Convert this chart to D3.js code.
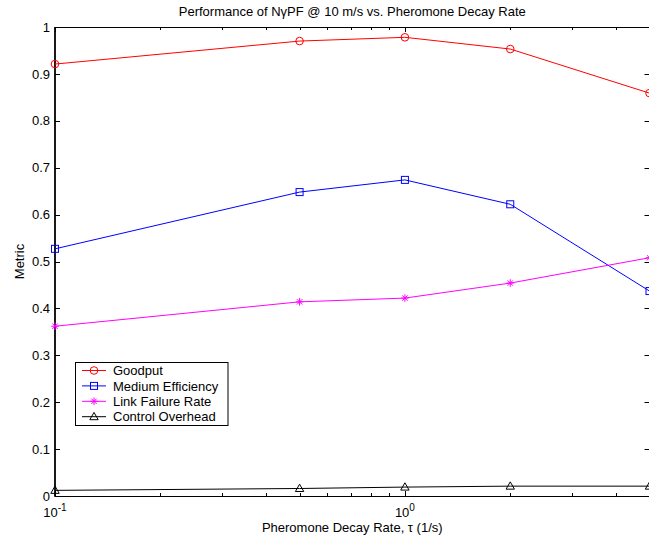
<!DOCTYPE html>
<html>
<head>
<meta charset="utf-8">
<script src="https://cdn.jsdelivr.net/npm/d3@7"></script>
<style>
  html, body { margin: 0; padding: 0; background: #fff; }
  svg text { font-family: "Liberation Sans", Arial, Helvetica, sans-serif; fill: #000; }
</style>
</head>
<body>
<svg id="chart" width="649" height="541"></svg>
<script>
// Decay rates (1/s) on a log axis
const decayRates = [0.1, 0.5, 1, 2, 5];

// Metrics at each decay rate
const goodput          = [0.921, 0.970, 0.978, 0.953, 0.859];
const mediumEfficiency = [0.527, 0.648, 0.674, 0.622, 0.437];
const linkFailureRate  = [0.362, 0.414, 0.422, 0.454, 0.508];
const controlOverhead  = [0.012, 0.016, 0.019, 0.021, 0.021];

const seriesNames  = ["Goodput", "Medium Efficiency", "Link Failure Rate", "Control Overhead"];
const seriesColors = ["#ff0000", "#0000ff", "#ff00ff", "#000000"];
const seriesMarkers = ["circle", "square", "star", "triangle"];

const yTicks = [0, 0.1, 0.2, 0.3, 0.4, 0.5, 0.6, 0.7, 0.8, 0.9, 1];
const xMajorTicks = [0.1, 1];
const xMinorTicks = [0.2, 0.3, 0.4, 0.5, 0.6, 0.7, 0.8, 0.9, 2, 3, 4];

const titleText = "Performance of NγPF @ 10 m/s vs. Pheromone Decay Rate";
const xLabelText = "Pheromone Decay Rate, τ (1/s)";
const yLabelText = "Metric";

const series = [goodput, mediumEfficiency, linkFailureRate, controlOverhead];

const svg = d3.select("#chart");
const plotL = 55, plotR = 649.5, plotT = 27, plotB = 496;

const x = d3.scaleLog().domain([0.1, 5]).range([plotL, plotR]);
const y = d3.scaleLinear().domain([0, 1]).range([plotB, plotT]);

const fontSize = 13;

// Plot box
const box = svg.append("g");
box.append("rect")
  .attr("x", plotL).attr("y", plotT + 0.5)
  .attr("width", plotR - plotL).attr("height", plotB - plotT)
  .attr("fill", "#fff").attr("stroke", "#000").attr("stroke-width", 1);
box.append("line")
  .attr("x1", plotL).attr("x2", plotL).attr("y1", plotT).attr("y2", plotB + 0.5)
  .attr("stroke", "#000").attr("stroke-width", 1.6);

// Y ticks (inward on both sides) and labels
const yt = svg.append("g");
yTicks.forEach(v => {
  const py = Math.round(y(v)) + 0.5;
  yt.append("line").attr("x1", plotL).attr("x2", plotL + 5).attr("y1", py).attr("y2", py)
    .attr("stroke", "#000");
  yt.append("line").attr("x1", plotR - 5).attr("x2", plotR).attr("y1", py).attr("y2", py)
    .attr("stroke", "#000");
  yt.append("text").attr("x", plotL - 5).attr("y", y(v)).attr("dy", "0.36em")
    .attr("text-anchor", "end").attr("font-size", fontSize)
    .text(d3.format("~g")(v));
});

// X ticks: major and minor, inward on top and bottom
const xt = svg.append("g");
xMajorTicks.concat(xMinorTicks).forEach(v => {
  const major = xMajorTicks.includes(v);
  const len = major ? 5 : 3;
  const px = Math.round(x(v)) + 0.5;
  xt.append("line").attr("x1", px).attr("x2", px).attr("y1", plotB).attr("y2", plotB - len)
    .attr("stroke", "#000");
  xt.append("line").attr("x1", px).attr("x2", px).attr("y1", plotT).attr("y2", plotT + len)
    .attr("stroke", "#000");
});
xMajorTicks.forEach(v => {
  const exp = Math.round(Math.log10(v));
  const t = xt.append("text").attr("x", x(v)).attr("y", plotB + 21)
    .attr("text-anchor", "middle").attr("font-size", fontSize);
  t.append("tspan").text("10");
  t.append("tspan").attr("dy", -6).attr("font-size", 10).text(String(exp));
});

// Series lines and markers
const line = d3.line().x((d, i) => x(decayRates[i])).y(d => y(d));

function drawMarker(g, type, cx, cy, color) {
  if (type === "circle") {
    g.append("circle").attr("cx", cx).attr("cy", cy).attr("r", 3.8)
      .attr("fill", "none").attr("stroke", color).attr("stroke-width", 1);
  } else if (type === "square") {
    g.append("rect").attr("x", cx - 3.5).attr("y", cy - 3.5).attr("width", 7).attr("height", 7)
      .attr("fill", "none").attr("stroke", color).attr("stroke-width", 1);
  } else if (type === "star") {
    const s = 3.8, d = 2.7;
    const p = `M${cx - s},${cy}L${cx + s},${cy}M${cx},${cy - s}L${cx},${cy + s}` +
              `M${cx - d},${cy - d}L${cx + d},${cy + d}M${cx - d},${cy + d}L${cx + d},${cy - d}`;
    g.append("path").attr("d", p).attr("fill", "none").attr("stroke", color).attr("stroke-width", 1);
  } else if (type === "triangle") {
    const p = `M${cx},${cy - 4.3}L${cx + 4.2},${cy + 3}L${cx - 4.2},${cy + 3}Z`;
    g.append("path").attr("d", p).attr("fill", "none").attr("stroke", color).attr("stroke-width", 1);
  }
}

const plot = svg.append("g");
series.forEach((vals, k) => {
  plot.append("path").datum(vals).attr("d", line)
    .attr("fill", "none").attr("stroke", seriesColors[k]).attr("stroke-width", 1);
  vals.forEach((v, i) => drawMarker(plot, seriesMarkers[k], x(decayRates[i]), y(v), seriesColors[k]));
});

// Legend
const lg = svg.append("g");
const lgX = 75.5, lgY = 362.5, lgW = 152.5, lgH = 63;
lg.append("rect").attr("x", lgX).attr("y", lgY).attr("width", lgW).attr("height", lgH)
  .attr("fill", "#fff").attr("stroke", "#000").attr("stroke-width", 1);
seriesNames.forEach((name, k) => {
  const ly = 370.5 + k * 15.4;
  lg.append("line").attr("x1", 82).attr("x2", 106).attr("y1", ly).attr("y2", ly)
    .attr("stroke", seriesColors[k]).attr("stroke-width", 1);
  drawMarker(lg, seriesMarkers[k], 94, ly, seriesColors[k]);
  lg.append("text").attr("x", 113).attr("y", ly).attr("dy", "0.36em")
    .attr("font-size", fontSize).text(name);
});

// Title and axis labels
svg.append("text").attr("x", (plotL + plotR) / 2).attr("y", 16)
  .attr("text-anchor", "middle").attr("font-size", fontSize).text(titleText);
svg.append("text").attr("x", (plotL + plotR) / 2).attr("y", 532)
  .attr("text-anchor", "middle").attr("font-size", fontSize).text(xLabelText);
svg.append("text").attr("transform", `translate(24,${(plotT + plotB) / 2}) rotate(-90)`)
  .attr("text-anchor", "middle").attr("font-size", fontSize).text(yLabelText);
</script>
</body>
</html>
